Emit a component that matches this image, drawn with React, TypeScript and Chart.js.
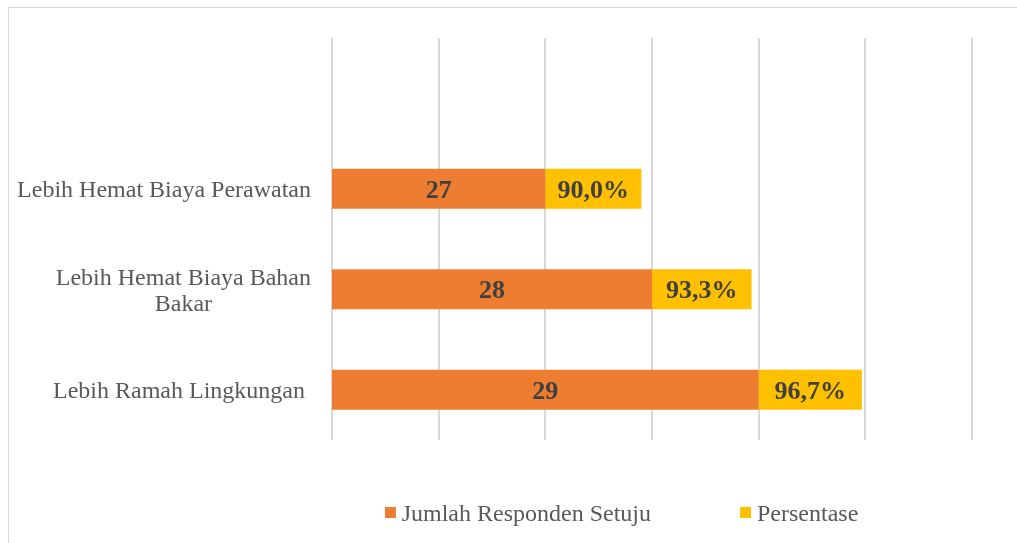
import React, { useEffect, useRef } from "react";
import { Chart, registerables } from "chart.js";

Chart.register(...registerables);

const categories: (string | string[])[] = [
  "",
  "Lebih Hemat Biaya Perawatan",
  ["Lebih Hemat Biaya Bahan", "Bakar"],
  "Lebih Ramah Lingkungan ",
];
const jumlahResponden: (number | null)[] = [null, 27, 28, 29];
const persentase: (number | null)[] = [null, 0.9, 0.933, 0.967];
const seriesNames = ["Jumlah Responden Setuju", "Persentase"];
const seriesColors = ["#ED7D31", "#FFC000"];
const axisMin = 25;
const axisMax = 31;

const FONT = '"Liberation Serif", "Times New Roman", serif';

function fmtJumlah(v: number) {
  return String(v);
}
function fmtPersen(v: number) {
  return (v * 100).toFixed(1).replace(".", ",") + "%";
}

const customDraw = {
  id: "customDraw",
  afterDatasetsDraw(chart: any) {
    const ctx = chart.ctx as CanvasRenderingContext2D;
    const area = chart.chartArea;
    // data labels
    ctx.save();
    ctx.font = `bold 26px ${FONT}`;
    ctx.fillStyle = "#404040";
    ctx.textAlign = "center";
    ctx.textBaseline = "alphabetic";
    chart.data.datasets.forEach((ds: any, i: number) => {
      const meta = chart.getDatasetMeta(i);
      meta.data.forEach((el: any, j: number) => {
        const v = ds.data[j];
        if (v === null || v === undefined) return;
        const p = el.getProps(["x", "base", "y"], true);
        const left = Math.max(Math.min(p.x, p.base), area.left);
        const right = Math.max(p.x, p.base);
        const cx = (left + right) / 2;
        const text = i === 0 ? fmtJumlah(v) : fmtPersen(v);
        ctx.fillText(text, cx, p.y + 9);
      });
    });
    ctx.restore();
  },
  afterDraw(chart: any) {
    const ctx = chart.ctx as CanvasRenderingContext2D;
    const area = chart.chartArea;
    const yScale = chart.scales.y;
    // category labels
    ctx.save();
    ctx.font = `24px ${FONT}`;
    ctx.fillStyle = "#595959";
    ctx.textAlign = "center";
    ctx.textBaseline = "alphabetic";
    const labelRight = area.left - 21;
    const lineH = 26;
    categories.forEach((lab, j) => {
      const lines = Array.isArray(lab) ? lab : [lab];
      if (lines.join("").trim() === "") return;
      const y = yScale.getPixelForValue(j);
      const blockW = Math.max(...lines.map((l) => ctx.measureText(l).width));
      const cx = labelRight - blockW / 2;
      const first = y - ((lines.length - 1) * lineH) / 2 + 8.5;
      lines.forEach((l, k) => {
        ctx.fillText(l, cx, first + k * lineH);
      });
    });
    ctx.restore();

    // legend
    ctx.save();
    ctx.font = `24px ${FONT}`;
    ctx.textBaseline = "alphabetic";
    ctx.textAlign = "left";
    const box = 11;
    const gap = 6;
    const itemGap = 89;
    const widths = seriesNames.map((n) => box + gap + ctx.measureText(n).width);
    const total = widths.reduce((a, b) => a + b, 0) + itemGap * (widths.length - 1);
    const centerX = 621.5;
    const cy = 512.5;
    let x = centerX - total / 2;
    seriesNames.forEach((n, i) => {
      ctx.fillStyle = seriesColors[i];
      ctx.fillRect(Math.round(x), Math.round(cy - box / 2), box, box);
      ctx.fillStyle = "#595959";
      ctx.fillText(n, x + box + gap, cy + 8);
      x += widths[i] + itemGap;
    });
    ctx.restore();
  },
};

export default function App() {
  const ref = useRef<HTMLCanvasElement | null>(null);
  useEffect(() => {
    if (!ref.current) return;
    const chart = new Chart(ref.current, {
      type: "bar",
      data: {
        labels: categories as any,
        datasets: [
          {
            label: seriesNames[0],
            data: jumlahResponden,
            backgroundColor: seriesColors[0],
            borderWidth: 0,
            categoryPercentage: 1,
            barPercentage: 0.4,
          },
          {
            label: seriesNames[1],
            data: persentase,
            backgroundColor: seriesColors[1],
            borderWidth: 0,
            categoryPercentage: 1,
            barPercentage: 0.4,
          },
        ],
      },
      options: {
        indexAxis: "y",
        animation: false,
        responsive: false,
        devicePixelRatio: 1,
        layout: { padding: { left: 332, right: 45, top: 38, bottom: 103 } },
        plugins: {
          legend: { display: false },
          tooltip: { enabled: false },
          title: { display: false },
        },
        scales: {
          x: {
            type: "linear",
            stacked: true,
            min: axisMin,
            max: axisMax,
            ticks: { display: false, stepSize: 1 },
            grid: { color: "#d9d9d9", lineWidth: 2, drawTicks: false },
            border: { display: false },
          },
          y: {
            type: "category",
            stacked: true,
            display: false,
            grid: { display: false },
          },
        },
      },
      plugins: [customDraw],
    });
    return () => chart.destroy();
  }, []);

  return (
    <div
      style={{
        position: "fixed",
        left: 0,
        top: 0,
        width: 1017,
        height: 543,
        background: "#fff",
        overflow: "hidden",
      }}
    >
      <div
        style={{
          position: "absolute",
          left: 8,
          top: 7,
          width: 1200,
          height: 800,
          border: "1px solid #d9d9d9",
          boxSizing: "border-box",
        }}
      />
      <canvas
        ref={ref}
        width={1017}
        height={543}
        style={{ position: "absolute", left: 0, top: 0, width: 1017, height: 543 }}
      />
    </div>
  );
}
